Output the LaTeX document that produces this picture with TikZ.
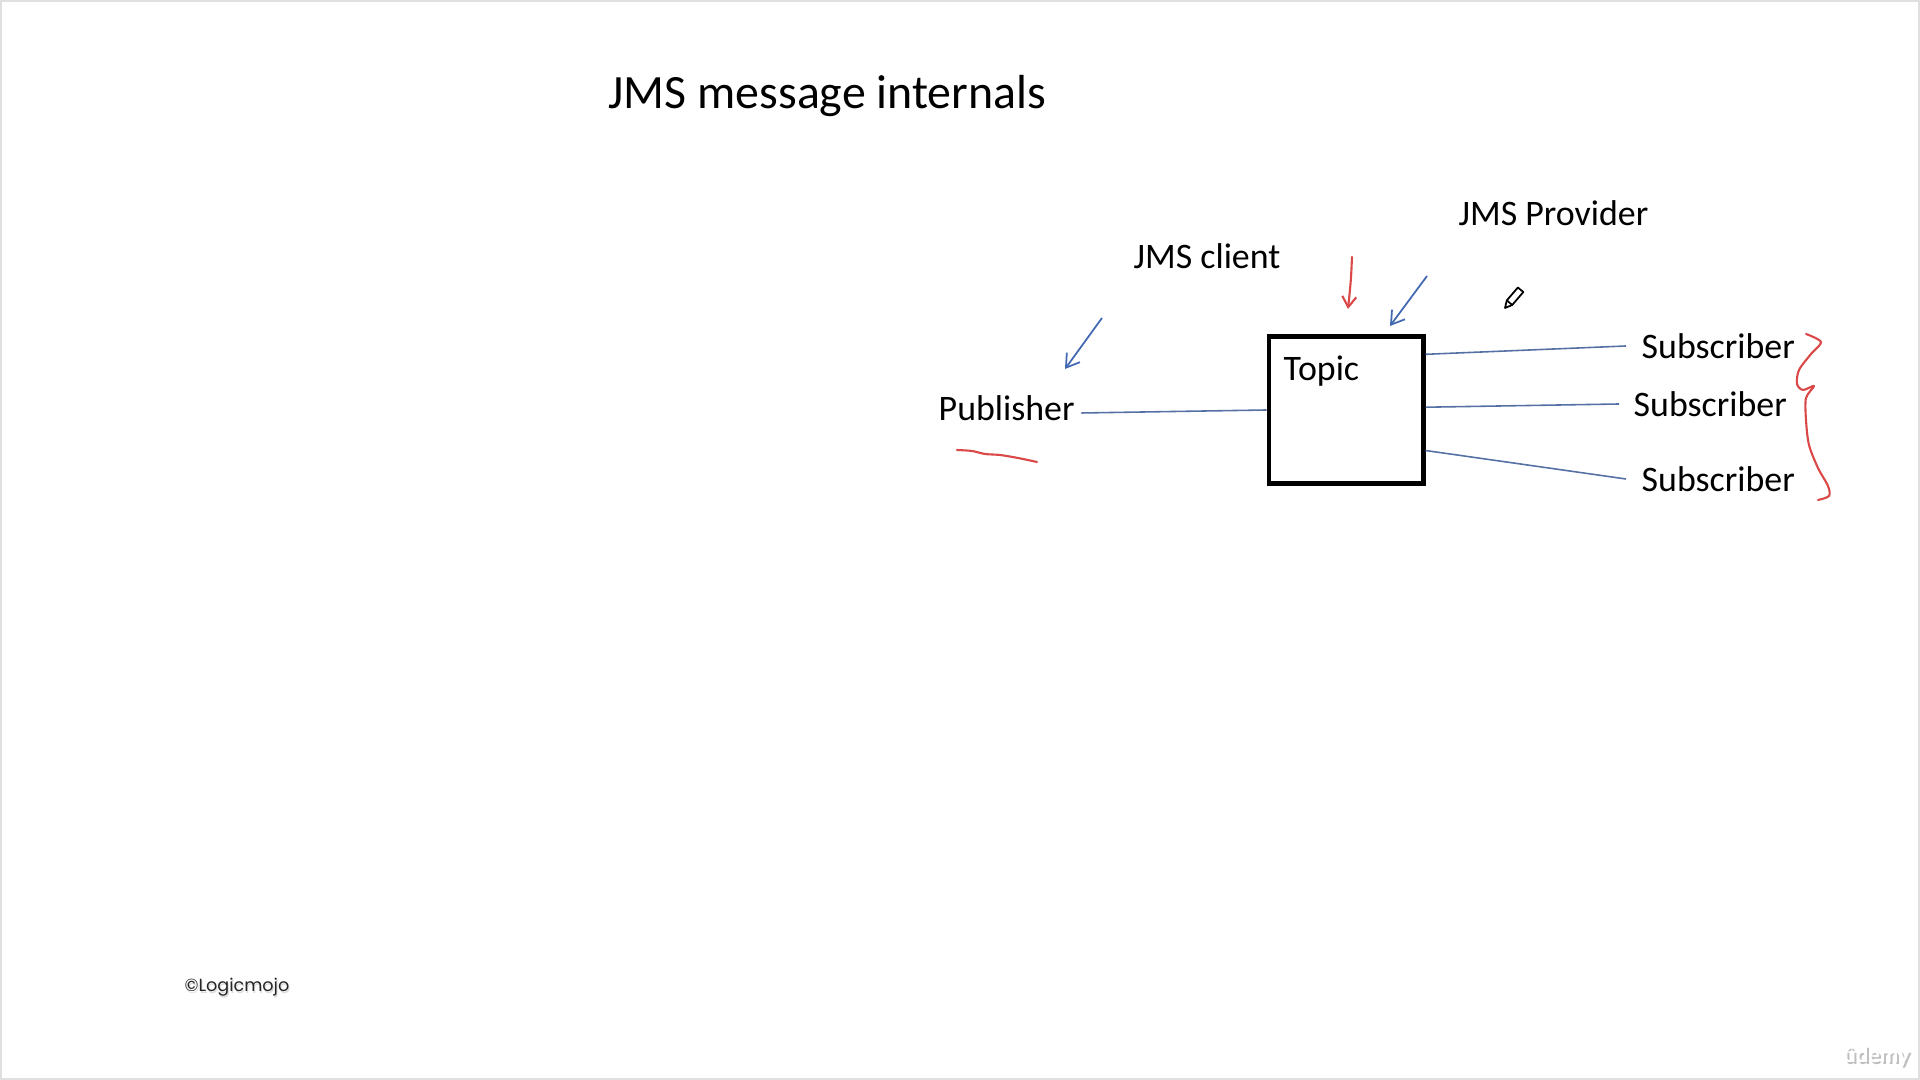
\documentclass[tikz,border=0pt]{standalone}
\usepackage{fontspec}
\setmainfont{Carlito}
\newfontfamily\logofont{Poppins}
\newfontfamily\brandfont{Lato}
\usetikzlibrary{arrows.meta}
\definecolor{wireblue}{RGB}{84,112,165}
\definecolor{penblue}{RGB}{66,104,178}
\definecolor{penred}{RGB}{218,72,72}

\begin{document}
\begin{tikzpicture}[x=0.01cm, y=-0.01cm,
    txt/.style={font=\fontsize{10.2}{12}\selectfont, inner sep=0pt, anchor=west},
    headline/.style={font=\fontsize{13.6}{16}\selectfont, inner sep=0pt, anchor=west},
    topicbox/.style={draw, line width=1.4pt, minimum width=1.54cm, minimum height=1.47cm, inner sep=0pt},
    wire/.style={wireblue, line width=0.45pt},
    bluepen/.style={penblue, line width=0.5pt, -{Straight Barb[length=3.6pt,width=4.6pt]}},
    redpen/.style={penred, line width=0.6pt, line cap=round, line join=round}]
    \useasboundingbox (0,0) rectangle (1920,1080);
    \draw[black!12, line width=0.6pt] (1,1) rectangle (1919,1079);

    \node[headline] (title) at (608,96) {JMS message internals};
    \node[txt] (client) at (1133,256) {JMS client};
    \node[txt] (provider) at (1458,213) {JMS Provider};
    \node[txt] (pub) at (938,408) {Publisher};
    \node[topicbox] (topic) at (1346,410) {};
    \node[txt] (topiclabel) at (1283,371) {Topic};
    \node[txt] (sub1) at (1641,346) {Subscriber};
    \node[txt] (sub2) at (1633,404) {Subscriber};
    \node[txt] (sub3) at (1641,479) {Subscriber};

    \draw[wire] ([shift={(6,5)}]pub.east) -- (topic.west);
    \draw[wire] (topic.35) -- ([shift={(-15,0)}]sub1.west);
    \draw[wire] (topic.2) -- ([shift={(-14,0)}]sub2.west);
    \draw[wire] (topic.-27) -- ([shift={(-15,0)}]sub3.west);

    \coordinate (clientfrom) at (1102,318);
    \coordinate (clientto) at (1065,369);
    \coordinate (providerfrom) at (1427,276);
    \coordinate (providerto) at (1390,326);
    \draw[bluepen] (clientfrom) -- (clientto);
    \draw[bluepen] (providerfrom) -- (providerto);

    \coordinate (redfrom) at (1352,257);
    \coordinate (redto) at (1348,309);
    \draw[redpen, -{Straight Barb[length=3pt,width=4pt]}] (redfrom) .. controls (1351,280) .. (redto);
    \draw[redpen] plot[smooth] coordinates {(957,450) (972,451) (985,454) (1000,455) (1018,458) (1037,462)};
    \draw[redpen] plot[smooth] coordinates {(1806,334) (1821,342) (1811,354) (1799,370) (1797,384) (1803,390)
        (1814,386) (1806,398) (1806,420) (1809,445) (1818,468) (1828,486) (1829,496) (1818,500)};

    \draw[line width=0.5pt, line join=round] (1505,308) -- (1512.2,305) -- (1523.3,292.1)
        -- (1517.9,287.5) -- (1506.8,300.4) -- cycle;
    \draw[line width=0.5pt] (1512.2,305) -- (1506.8,300.4);

    \node[inner sep=0pt, anchor=west, text=black!15, font=\logofont\fontsize{5}{6}\selectfont] at (185,989) {©Logicmojo};
    \node[inner sep=0pt, anchor=west, text=black!85, font=\logofont\fontsize{5}{6}\selectfont] (logo) at (184,987) {©Logicmojo};
    \node[inner sep=0pt, anchor=west, text=black!25, font=\brandfont\bfseries\fontsize{6.2}{7}\selectfont] at (1845,1058) {ûdemy};
    \node[inner sep=0pt, anchor=west, text=white, font=\brandfont\bfseries\fontsize{6.2}{7}\selectfont] (brand) at (1843,1056) {ûdemy};
\end{tikzpicture}
\end{document}
